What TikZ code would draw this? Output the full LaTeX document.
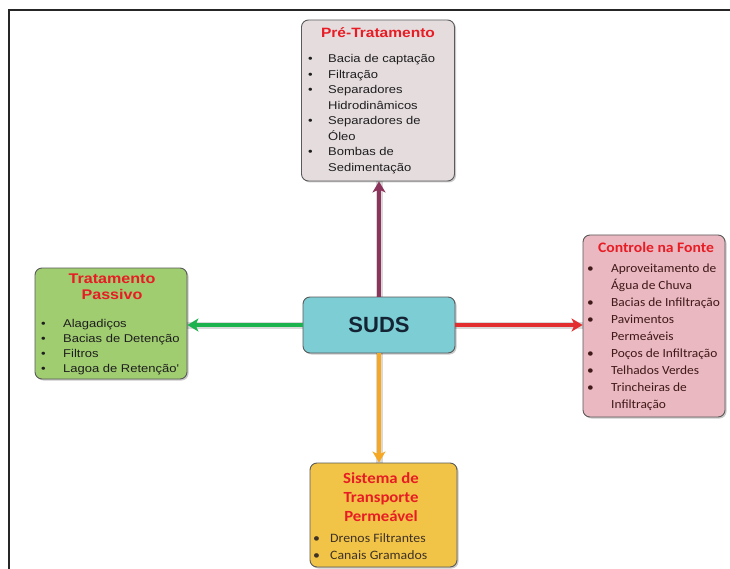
\documentclass[tikz,border=0pt]{standalone}
\usepackage{fontspec}
\setmainfont{Liberation Sans}
\newfontfamily\arialw[FakeStretch=1.15]{Liberation Sans}
\newfontfamily\calw[FakeStretch=1.08]{Carlito}
\usetikzlibrary{arrows.meta,shadows}

\definecolor{preFill}{RGB}{229,220,222}
\definecolor{fonteFill}{RGB}{233,184,192}
\definecolor{passFill}{RGB}{160,205,112}
\definecolor{sudsFill}{RGB}{124,205,212}
\definecolor{tranFill}{RGB}{241,196,72}
\definecolor{titleRed}{RGB}{232,28,36}
\definecolor{boxLine}{RGB}{90,90,90}
\definecolor{arrPurple}{RGB}{140,52,92}
\definecolor{arrGreen}{RGB}{28,178,78}
\definecolor{arrRed}{RGB}{226,46,46}
\definecolor{arrOrange}{RGB}{246,168,36}
\definecolor{textDark}{RGB}{30,30,30}
\definecolor{sudsText}{RGB}{20,36,52}

\begin{document}
\begin{tikzpicture}[x=1pt,y=-1pt,
  box/.style={draw=boxLine, line width=0.9pt, rounded corners=7pt,
    inner sep=0pt,
    drop shadow={shadow xshift=1.5pt, shadow yshift=-1.5pt, opacity=0.35, fill=black!60}},
  ttlA/.style={anchor=base, text=titleRed, font=\arialw\bfseries\fontsize{13.5}{15}\selectfont, inner sep=0pt},
  ttlC/.style={anchor=base, text=titleRed, font=\calw\bfseries\fontsize{14.5}{16}\selectfont, inner sep=0pt},
  itA/.style={anchor=base west, text=textDark, font=\arialw\fontsize{11.3}{13}\selectfont, inner sep=0pt},
  itC/.style={anchor=base west, text=textDark!85!red, font=\calw\fontsize{12.4}{14}\selectfont, inner sep=0pt},
  itT/.style={anchor=base west, text=textDark!80!brown, font=\calw\fontsize{12.8}{14}\selectfont, inner sep=0pt},
  link/.style={line width=3.2pt, -{Stealth[length=11pt,width=13pt,inset=3pt]},
    preaction={draw, line width=7pt, opacity=0.15, -}},
]
\useasboundingbox (0,0) rectangle (730,569);
\fill[white] (0,0) rectangle (730,569);

% outer frame (top and left edges)
\draw[line width=1.8pt, black!85] (9,569) -- (9,10) -- (730,10);

% boxes
\node[box, fill=preFill,  minimum width=153pt, minimum height=161pt] (pre)  at (378,100.5) {};
\node[box, fill=fonteFill, minimum width=142pt, minimum height=182pt] (fonte) at (654,326) {};
\node[box, fill=passFill, minimum width=152pt, minimum height=111pt] (pass) at (111,323.5) {};
\node[box, fill=sudsFill, minimum width=152pt, minimum height=56pt] (suds) at (379,325)
  {\fontsize{22}{24}\selectfont\bfseries\color{sudsText}SUDS};
\node[box, fill=tranFill, minimum width=147pt, minimum height=104pt] (tran) at (383.5,515) {};

% connectors
\draw[link, arrPurple] (suds.north) -- (suds.north |- pre.south);
\draw[link, arrOrange] (suds.south) -- (suds.south |- tran.north);
\draw[link, arrGreen]  (suds.west)  -- (suds.west -| pass.east);
\draw[link, arrRed]    (suds.east)  -- (suds.east -| fonte.west);

% Pre-Tratamento
\node[ttlA] (preT) at (378,38) {Pré-Tratamento};
\node[itA] (pre1) at (308,63)    {\makebox[20pt][l]{•}Bacia de captação};
\node[itA] (pre2) at (308,78.5)  {\makebox[20pt][l]{•}Filtração};
\node[itA] (pre3) at (308,94)    {\makebox[20pt][l]{•}Separadores};
\node[itA] (pre4) at (328,109.5) {Hidrodinâmicos};
\node[itA] (pre5) at (308,125)   {\makebox[20pt][l]{•}Separadores de};
\node[itA] (pre6) at (328,140.5) {Óleo};
\node[itA] (pre7) at (308,156)   {\makebox[20pt][l]{•}Bombas de};
\node[itA] (pre8) at (328,171.5) {Sedimentação};

% Controle na Fonte
\node[ttlC] (fonT) at (656,252.5) {Controle na Fonte};
\node[itC] (fon1) at (587,272.5) {\makebox[24pt][l]{•}Aproveitamento de};
\node[itC] (fon2) at (611,289.5) {Água de Chuva};
\node[itC] (fon3) at (587,306.5) {\makebox[24pt][l]{•}Bacias de Infiltração};
\node[itC] (fon4) at (587,323.5) {\makebox[24pt][l]{•}Pavimentos};
\node[itC] (fon5) at (611,340.5) {Permeáveis};
\node[itC] (fon6) at (587,357.5) {\makebox[24pt][l]{•}Poços de Infiltração};
\node[itC] (fon7) at (587,374.5) {\makebox[24pt][l]{•}Telhados Verdes};
\node[itC] (fon8) at (587,391.5) {\makebox[24pt][l]{•}Trincheiras de};
\node[itC] (fon9) at (611,408.5) {Infiltração};

% Tratamento Passivo
\node[ttlA, font=\arialw\bfseries\fontsize{14}{16}\selectfont] (pasT1) at (112,283) {Tratamento};
\node[ttlA, font=\arialw\bfseries\fontsize{14}{16}\selectfont] (pasT2) at (112,299) {Passivo};
\node[itA] (pas1) at (41,327) {\makebox[22pt][l]{•}Alagadiços};
\node[itA] (pas2) at (41,342) {\makebox[22pt][l]{•}Bacias de Detenção};
\node[itA] (pas3) at (41,357) {\makebox[22pt][l]{•}Filtros};
\node[itA] (pas4) at (41,372) {\makebox[22pt][l]{•}Lagoa de Retenção'};

% Sistema de Transporte Permeavel
\node[ttlC, font=\calw\bfseries\fontsize{15.5}{17}\selectfont] (traT1) at (381,483) {Sistema de};
\node[ttlC, font=\calw\bfseries\fontsize{15.5}{17}\selectfont] (traT2) at (381,502) {Transporte};
\node[ttlC, font=\calw\bfseries\fontsize{15.5}{17}\selectfont] (traT3) at (381,521) {Permeável};
\node[itT] (tra1) at (313,542) {\makebox[17pt][l]{•}Drenos Filtrantes};
\node[itT] (tra2) at (313,559) {\makebox[17pt][l]{•}Canais Gramados};
\end{tikzpicture}
\end{document}
